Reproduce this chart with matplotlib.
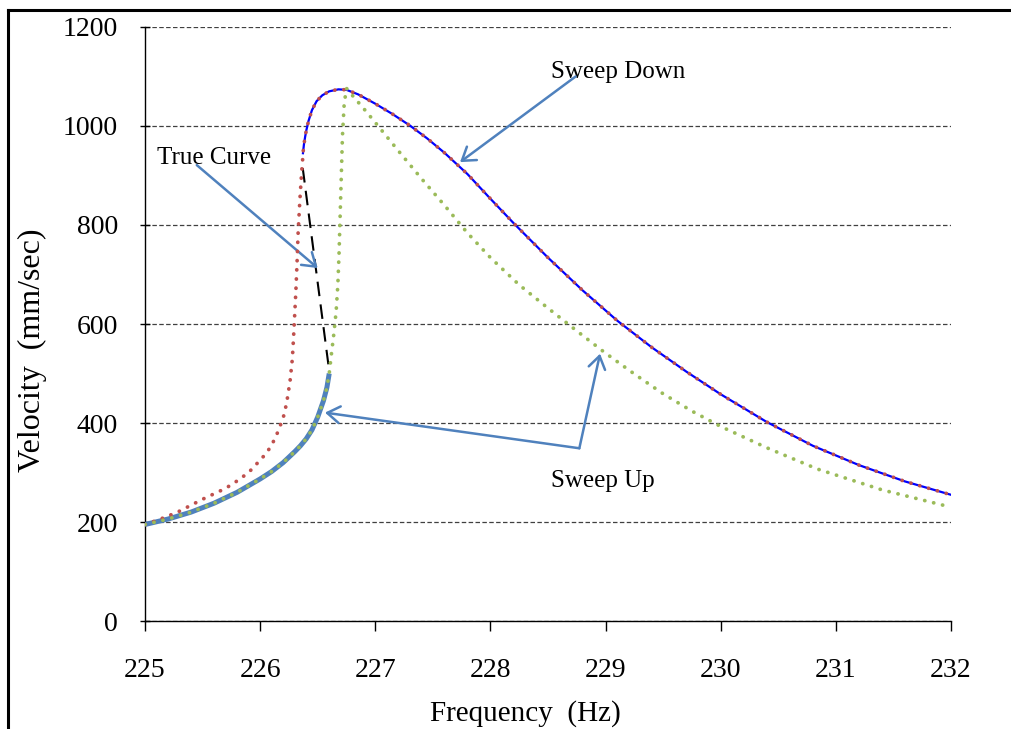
import numpy as np
import matplotlib.pyplot as plt
from matplotlib.lines import Line2D

# =========================
# DATA
# =========================

# sweep down, lower branch before the jump up
down_low_f = [225.0, 225.1, 225.2, 225.3, 225.4, 225.5, 225.6, 225.7, 225.8, 225.9,
              226.0, 226.05, 226.1, 226.15, 226.2, 226.23, 226.26, 226.28, 226.29,
              226.30, 226.31, 226.32, 226.33, 226.345, 226.36, 226.37]
down_low_v = [195, 203, 212, 222, 234, 246, 257, 268, 283, 300,
              325, 338, 355, 380, 410, 440, 485, 530, 572,
              618, 665, 720, 785, 850, 905, 935]

# true curve, upper stable branch (also followed by sweep down)
upper_f = [226.372, 226.38, 226.39, 226.40, 226.42, 226.45, 226.49, 226.54, 226.60,
           226.68, 226.75, 226.85, 227.0, 227.15, 227.3, 227.45, 227.6, 227.8,
           228.0, 228.2, 228.5, 228.8, 229.1, 229.4, 229.7, 230.0, 230.4, 230.8,
           231.2, 231.6, 232.0]
upper_v = [945, 962, 977, 990, 1010, 1032, 1050, 1062, 1070,
           1074, 1073, 1064, 1045, 1024, 1001, 975, 946, 903,
           853, 804, 734, 668, 607, 553, 504, 458, 402, 354,
           315, 282, 255]

# true curve, lower stable branch (also followed by sweep up)
lower_f = [225.0, 225.2, 225.4, 225.6, 225.8, 226.0, 226.1, 226.2, 226.3, 226.35,
           226.4, 226.45, 226.5, 226.55, 226.58, 226.6]
lower_v = [195, 206, 220, 238, 260, 287, 302, 320, 342, 354,
           368, 386, 412, 445, 472, 500]

# true curve, unstable branch
unstable_f = [226.37, 226.60]
unstable_v = [915, 505]

# sweep up, after the jump
up_high_f = [226.62, 226.64, 226.66, 226.675, 226.685, 226.695, 226.705, 226.715,
             226.73, 226.75, 226.8, 226.9, 227.0, 227.2, 227.4, 227.6, 227.8,
             228.0, 228.25, 228.5, 228.75, 229.0, 229.25, 229.5, 229.75, 230.0,
             230.4, 230.84, 231.4, 232.0]
up_high_v = [541, 580, 625, 680, 740, 820, 900, 980,
             1045, 1076, 1062, 1035, 1007, 950, 894, 840, 784,
             734, 679, 632, 586, 541, 499, 459, 424, 393,
             350, 307, 265, 230]

sweep_down_f = down_low_f + upper_f
sweep_down_v = down_low_v + upper_v
sweep_up_f = lower_f + up_high_f
sweep_up_v = lower_v + up_high_v

# =========================
# PLOTTING
# =========================

plt.rcParams['font.family'] = ['Liberation Serif', 'DejaVu Serif']

fig = plt.figure(figsize=(10.11, 7.29), dpi=100)
ax = fig.add_axes([0.1434, 0.1481, 0.7973, 0.8149])

arrow_col = '#4F81BD'

ax.plot(lower_f, lower_v, color='#4F81BD', lw=3.6, solid_capstyle='butt', zorder=3)
ax.plot(upper_f, upper_v, color='#0000FF', lw=1.6, zorder=3)
ax.plot(unstable_f, unstable_v, color='black', lw=1.5, dashes=(7, 4), zorder=3)
ax.plot(sweep_down_f, sweep_down_v, color='#C0504D', lw=2.7, dashes=(0.05, 2.4),
        dash_capstyle='round', zorder=4)
ax.plot(sweep_up_f, sweep_up_v, color='#9BBB59', lw=2.7, dashes=(0.05, 2.4),
        dash_capstyle='round', zorder=4)

ax.set_xlim(225, 232)
ax.set_ylim(0, 1200)
ax.set_xticks(np.arange(225, 233, 1))
ax.set_yticks(np.arange(0, 1201, 200))

ax.yaxis.grid(True, color='#404040', lw=0.9, dashes=(3.6, 1.9))
ax.set_axisbelow(True)
for s in ['top', 'right']:
    ax.spines[s].set_visible(False)
ax.spines['left'].set_linewidth(1.0)
ax.spines['bottom'].set_linewidth(1.0)

ax.tick_params(axis='y', direction='inout', length=7, width=1, pad=16, labelsize=20)
ax.tick_params(axis='x', direction='out', length=7.5, width=1, pad=19, labelsize=20)

ax.set_xlabel("Frequency  (Hz)", fontsize=21)
ax.set_ylabel("Velocity  (mm/sec)", fontsize=23)
ax.xaxis.set_label_coords(0.4715, -0.133)
ax.yaxis.set_label_coords(-0.122, 0.456)

# annotations
ax.text(228.53, 1109, "Sweep Down", fontsize=18, va='center', ha='left')
ax.text(225.104, 935, "True Curve", fontsize=18, va='center', ha='left')
ax.text(228.53, 282, "Sweep Up", fontsize=18, va='center', ha='left')

aprops = dict(arrowstyle='->,head_length=0.45,head_width=0.3', color=arrow_col,
              lw=1.8, shrinkA=0, shrinkB=0, mutation_scale=20)
ax.annotate('', xy=(227.736, 927), xytext=(228.74, 1100), arrowprops=aprops)
ax.annotate('', xy=(226.50, 713), xytext=(225.45, 921), arrowprops=aprops)
ax.annotate('', xy=(226.563, 421), xytext=(228.772, 349), arrowprops=aprops)
ax.annotate('', xy=(228.952, 540), xytext=(228.772, 349), arrowprops=aprops)

# frame lines round the chart area
fig.add_artist(Line2D([0.0084, 0.0084], [0.0, 0.9863], color='black', lw=2.2))
fig.add_artist(Line2D([0.0084, 1.0], [0.9863, 0.9863], color='black', lw=2.2))

plt.savefig("out.png", dpi=100)
